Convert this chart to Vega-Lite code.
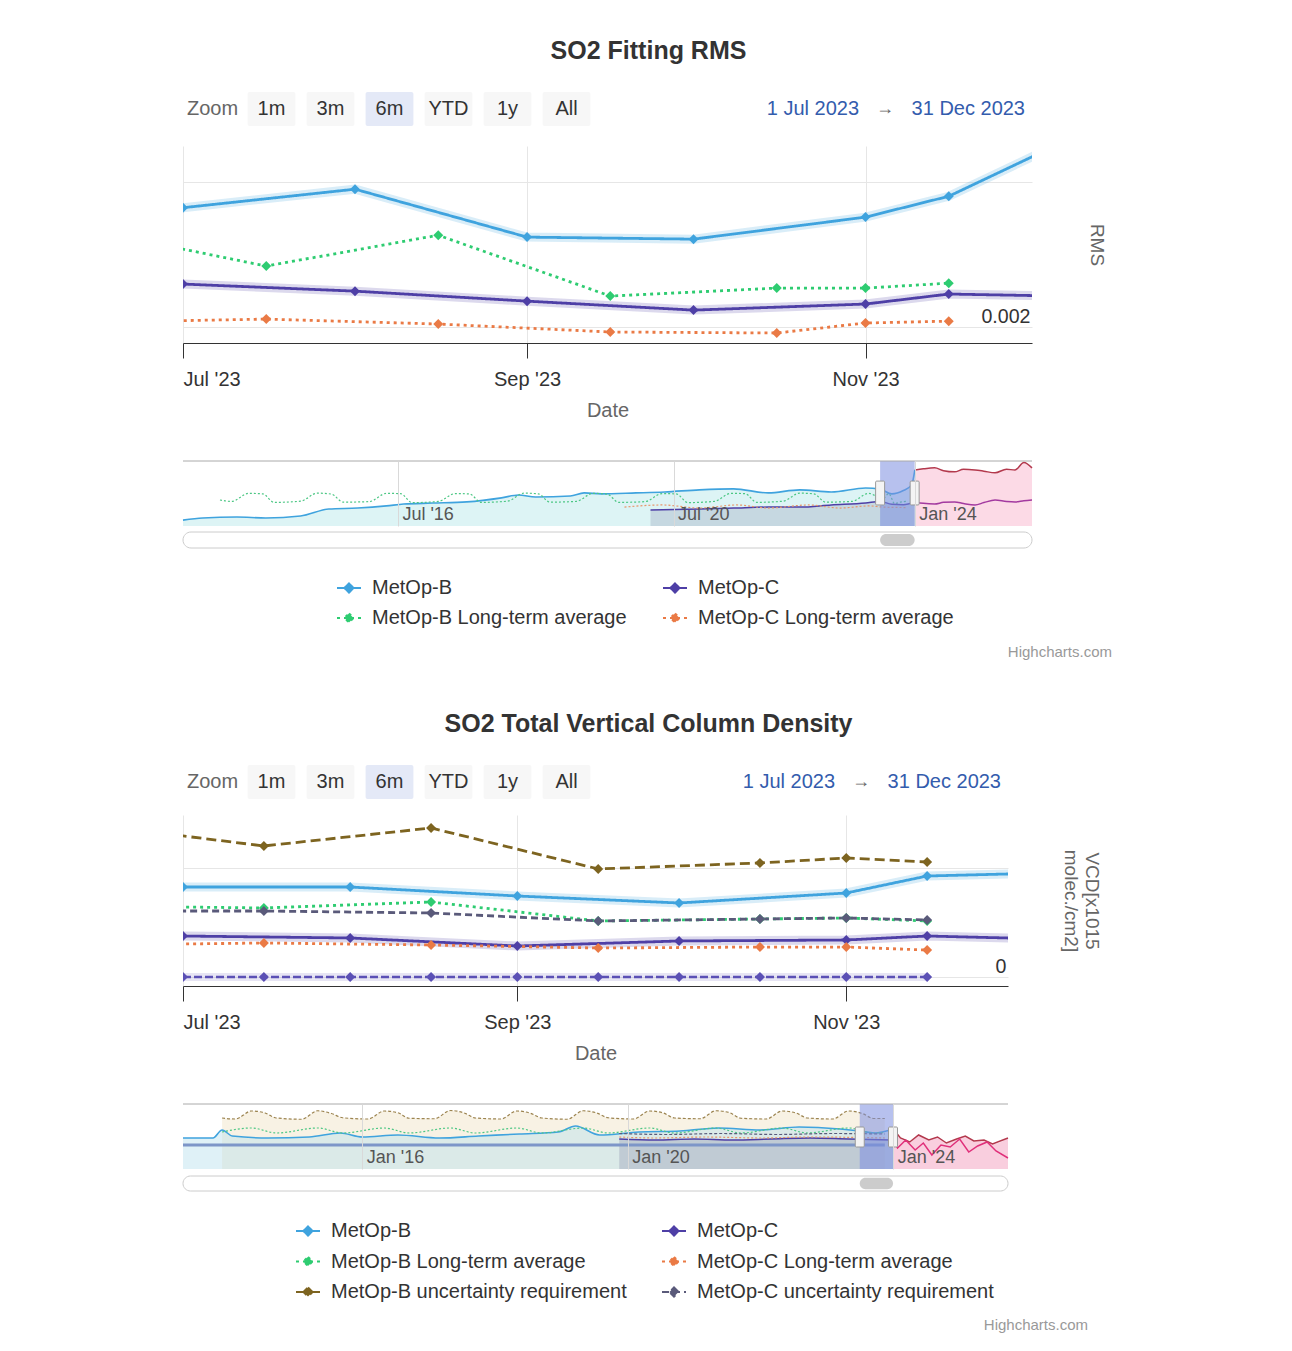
{
"$schema": "https://vega.github.io/schema/vega-lite/v6.json",
"background": "white",
"padding": {"left": 177, "top": 39, "right": 10, "bottom": 5},
"config": {"font": "Liberation Sans", "view": {"stroke": null}},
"datasets": {
"buttons": [{"label":"Zoom"},{"label":"1m"},{"label":"3m"},{"label":"6m"},{"label":"YTD"},{"label":"1y"},{"label":"All"}],
"range": [{"from":"1 Jul 2023","to":"31 Dec 2023"}],
"sel": [{"date":"2023-07-01","end":"2023-12-31"}],
"handles": [{"date":"2023-07-01"},{"date":"2023-12-31"}],
"credit": [{"credit":"Highcharts.com"}],
"rms": [
{"date":"2023-07-01","series":"MetOp-B","value":0.002824},
{"date":"2023-08-01","series":"MetOp-B","value":0.002952},
{"date":"2023-09-01","series":"MetOp-B","value":0.002621},
{"date":"2023-10-01","series":"MetOp-B","value":0.002607},
{"date":"2023-11-01","series":"MetOp-B","value":0.002759},
{"date":"2023-11-16","series":"MetOp-B","value":0.002903},
{"date":"2023-12-16","series":"MetOp-B","value":0.003448},
{"date":"2023-06-16","series":"MetOp-B Long-term average","value":0.002655},
{"date":"2023-07-16","series":"MetOp-B Long-term average","value":0.002421},
{"date":"2023-08-16","series":"MetOp-B Long-term average","value":0.002634},
{"date":"2023-09-16","series":"MetOp-B Long-term average","value":0.002214},
{"date":"2023-10-16","series":"MetOp-B Long-term average","value":0.002269},
{"date":"2023-11-01","series":"MetOp-B Long-term average","value":0.002269},
{"date":"2023-11-16","series":"MetOp-B Long-term average","value":0.002303},
{"date":"2023-07-01","series":"MetOp-C","value":0.002297},
{"date":"2023-08-01","series":"MetOp-C","value":0.002248},
{"date":"2023-09-01","series":"MetOp-C","value":0.002179},
{"date":"2023-10-01","series":"MetOp-C","value":0.002117},
{"date":"2023-11-01","series":"MetOp-C","value":0.002159},
{"date":"2023-11-16","series":"MetOp-C","value":0.002228},
{"date":"2023-12-16","series":"MetOp-C","value":0.002207},
{"date":"2023-06-16","series":"MetOp-C Long-term average","value":0.002034},
{"date":"2023-07-16","series":"MetOp-C Long-term average","value":0.002055},
{"date":"2023-08-16","series":"MetOp-C Long-term average","value":0.002021},
{"date":"2023-09-16","series":"MetOp-C Long-term average","value":0.001966},
{"date":"2023-10-16","series":"MetOp-C Long-term average","value":0.001959},
{"date":"2023-11-01","series":"MetOp-C Long-term average","value":0.002028},
{"date":"2023-11-16","series":"MetOp-C Long-term average","value":0.002041}
],
"vcd": [
{"date":"2023-07-01","series":"MetOp-B","value":1.651},
{"date":"2023-08-01","series":"MetOp-B","value":1.651},
{"date":"2023-09-01","series":"MetOp-B","value":1.486},
{"date":"2023-10-01","series":"MetOp-B","value":1.358},
{"date":"2023-11-01","series":"MetOp-B","value":1.541},
{"date":"2023-11-16","series":"MetOp-B","value":1.853},
{"date":"2023-12-16","series":"MetOp-B","value":1.927},
{"date":"2023-06-16","series":"MetOp-B Long-term average","value":1.303},
{"date":"2023-07-16","series":"MetOp-B Long-term average","value":1.266},
{"date":"2023-08-16","series":"MetOp-B Long-term average","value":1.376},
{"date":"2023-09-16","series":"MetOp-B Long-term average","value":1.028},
{"date":"2023-10-16","series":"MetOp-B Long-term average","value":1.064},
{"date":"2023-11-01","series":"MetOp-B Long-term average","value":1.083},
{"date":"2023-11-16","series":"MetOp-B Long-term average","value":1.028},
{"date":"2023-06-16","series":"MetOp-B uncertainty requirement","value":2.771},
{"date":"2023-07-16","series":"MetOp-B uncertainty requirement","value":2.404},
{"date":"2023-08-16","series":"MetOp-B uncertainty requirement","value":2.734},
{"date":"2023-09-16","series":"MetOp-B uncertainty requirement","value":1.982},
{"date":"2023-10-16","series":"MetOp-B uncertainty requirement","value":2.092},
{"date":"2023-11-01","series":"MetOp-B uncertainty requirement","value":2.183},
{"date":"2023-11-16","series":"MetOp-B uncertainty requirement","value":2.110},
{"date":"2023-07-01","series":"MetOp-C","value":0.752},
{"date":"2023-08-01","series":"MetOp-C","value":0.716},
{"date":"2023-09-01","series":"MetOp-C","value":0.569},
{"date":"2023-10-01","series":"MetOp-C","value":0.661},
{"date":"2023-11-01","series":"MetOp-C","value":0.679},
{"date":"2023-11-16","series":"MetOp-C","value":0.752},
{"date":"2023-12-16","series":"MetOp-C","value":0.679},
{"date":"2023-06-16","series":"MetOp-C Long-term average","value":0.587},
{"date":"2023-07-16","series":"MetOp-C Long-term average","value":0.624},
{"date":"2023-08-16","series":"MetOp-C Long-term average","value":0.587},
{"date":"2023-09-16","series":"MetOp-C Long-term average","value":0.532},
{"date":"2023-10-16","series":"MetOp-C Long-term average","value":0.550},
{"date":"2023-11-01","series":"MetOp-C Long-term average","value":0.550},
{"date":"2023-11-16","series":"MetOp-C Long-term average","value":0.495},
{"date":"2023-06-16","series":"MetOp-C uncertainty requirement","value":1.211},
{"date":"2023-07-16","series":"MetOp-C uncertainty requirement","value":1.211},
{"date":"2023-08-16","series":"MetOp-C uncertainty requirement","value":1.174},
{"date":"2023-09-16","series":"MetOp-C uncertainty requirement","value":1.028},
{"date":"2023-10-16","series":"MetOp-C uncertainty requirement","value":1.064},
{"date":"2023-11-01","series":"MetOp-C uncertainty requirement","value":1.083},
{"date":"2023-11-16","series":"MetOp-C uncertainty requirement","value":1.046},
{"date":"2023-07-01","series":"Zero line","value":0},
{"date":"2023-07-16","series":"Zero line","value":0},
{"date":"2023-08-01","series":"Zero line","value":0},
{"date":"2023-08-16","series":"Zero line","value":0},
{"date":"2023-09-01","series":"Zero line","value":0},
{"date":"2023-09-16","series":"Zero line","value":0},
{"date":"2023-10-01","series":"Zero line","value":0},
{"date":"2023-10-16","series":"Zero line","value":0},
{"date":"2023-11-01","series":"Zero line","value":0},
{"date":"2023-11-16","series":"Zero line","value":0}
],
"nav1": [
{"date":"2013-05-19","series":"MetOp-B","v":0.00151},
{"date":"2013-09-01","series":"MetOp-B","v":0.00160},
{"date":"2014-03-01","series":"MetOp-B","v":0.00164},
{"date":"2014-08-01","series":"MetOp-B","v":0.00160},
{"date":"2015-02-01","series":"MetOp-B","v":0.00168},
{"date":"2015-07-01","series":"MetOp-B","v":0.00198},
{"date":"2015-12-01","series":"MetOp-B","v":0.00202},
{"date":"2016-05-01","series":"MetOp-B","v":0.00211},
{"date":"2016-08-01","series":"MetOp-B","v":0.00219},
{"date":"2017-01-01","series":"MetOp-B","v":0.00223},
{"date":"2017-07-01","series":"MetOp-B","v":0.00228},
{"date":"2018-01-01","series":"MetOp-B","v":0.00245},
{"date":"2018-04-01","series":"MetOp-B","v":0.00257},
{"date":"2018-07-01","series":"MetOp-B","v":0.00249},
{"date":"2019-01-01","series":"MetOp-B","v":0.00253},
{"date":"2019-03-15","series":"MetOp-B","v":0.00266},
{"date":"2019-06-15","series":"MetOp-B","v":0.00262},
{"date":"2019-12-15","series":"MetOp-B","v":0.00266},
{"date":"2020-05-15","series":"MetOp-B","v":0.00270},
{"date":"2020-11-15","series":"MetOp-B","v":0.00279},
{"date":"2021-05-15","series":"MetOp-B","v":0.00283},
{"date":"2021-11-15","series":"MetOp-B","v":0.00266},
{"date":"2022-05-01","series":"MetOp-B","v":0.00279},
{"date":"2022-10-15","series":"MetOp-B","v":0.00270},
{"date":"2023-04-15","series":"MetOp-B","v":0.00287},
{"date":"2023-07-01","series":"MetOp-B","v":0.00282},
{"date":"2023-09-01","series":"MetOp-B","v":0.00262},
{"date":"2023-11-01","series":"MetOp-B","v":0.00276},
{"date":"2023-12-15","series":"MetOp-B","v":0.00300},
{"date":"2024-01-01","series":"MetOp-B","v":0.00363},
{"date":"2024-02-15","series":"MetOp-B","v":0.00368},
{"date":"2024-04-15","series":"MetOp-B","v":0.00372},
{"date":"2024-06-01","series":"MetOp-B","v":0.00360},
{"date":"2024-07-30","series":"MetOp-B","v":0.00355},
{"date":"2024-09-15","series":"MetOp-B","v":0.00366},
{"date":"2024-11-15","series":"MetOp-B","v":0.00363},
{"date":"2025-01-01","series":"MetOp-B","v":0.00358},
{"date":"2025-03-01","series":"MetOp-B","v":0.00351},
{"date":"2025-05-01","series":"MetOp-B","v":0.00366},
{"date":"2025-06-15","series":"MetOp-B","v":0.00363},
{"date":"2025-08-01","series":"MetOp-B","v":0.00395},
{"date":"2025-09-13","series":"MetOp-B","v":0.00372},
{"date":"2020-03-01","series":"MetOp-C","v":0.00194},
{"date":"2020-11-15","series":"MetOp-C","v":0.00198},
{"date":"2021-05-15","series":"MetOp-C","v":0.00202},
{"date":"2021-11-15","series":"MetOp-C","v":0.00206},
{"date":"2022-05-01","series":"MetOp-C","v":0.00206},
{"date":"2022-10-15","series":"MetOp-C","v":0.00215},
{"date":"2023-04-15","series":"MetOp-C","v":0.00223},
{"date":"2023-07-01","series":"MetOp-C","v":0.00230},
{"date":"2023-09-01","series":"MetOp-C","v":0.00218},
{"date":"2023-11-01","series":"MetOp-C","v":0.00216},
{"date":"2024-01-01","series":"MetOp-C","v":0.00228},
{"date":"2024-02-15","series":"MetOp-C","v":0.00222},
{"date":"2024-04-15","series":"MetOp-C","v":0.00219},
{"date":"2024-06-01","series":"MetOp-C","v":0.00226},
{"date":"2024-07-30","series":"MetOp-C","v":0.00228},
{"date":"2024-09-15","series":"MetOp-C","v":0.00221},
{"date":"2024-11-15","series":"MetOp-C","v":0.00215},
{"date":"2025-01-01","series":"MetOp-C","v":0.00225},
{"date":"2025-03-01","series":"MetOp-C","v":0.00236},
{"date":"2025-05-01","series":"MetOp-C","v":0.00230},
{"date":"2025-06-15","series":"MetOp-C","v":0.00228},
{"date":"2025-08-01","series":"MetOp-C","v":0.00233},
{"date":"2025-09-13","series":"MetOp-C","v":0.00236},
{"date":"2013-12-01","series":"MetOp-B Long-term average","v":0.00236},
{"date":"2014-02-01","series":"MetOp-B Long-term average","v":0.00230},
{"date":"2014-05-01","series":"MetOp-B Long-term average","v":0.00264},
{"date":"2014-07-15","series":"MetOp-B Long-term average","v":0.00262},
{"date":"2014-09-15","series":"MetOp-B Long-term average","v":0.00226},
{"date":"2015-02-01","series":"MetOp-B Long-term average","v":0.00231},
{"date":"2015-05-01","series":"MetOp-B Long-term average","v":0.00265},
{"date":"2015-07-15","series":"MetOp-B Long-term average","v":0.00261},
{"date":"2015-09-15","series":"MetOp-B Long-term average","v":0.00227},
{"date":"2016-02-01","series":"MetOp-B Long-term average","v":0.00229},
{"date":"2016-05-01","series":"MetOp-B Long-term average","v":0.00264},
{"date":"2016-07-15","series":"MetOp-B Long-term average","v":0.00263},
{"date":"2016-09-15","series":"MetOp-B Long-term average","v":0.00225},
{"date":"2017-02-01","series":"MetOp-B Long-term average","v":0.00230},
{"date":"2017-05-01","series":"MetOp-B Long-term average","v":0.00263},
{"date":"2017-07-15","series":"MetOp-B Long-term average","v":0.00262},
{"date":"2017-09-15","series":"MetOp-B Long-term average","v":0.00226},
{"date":"2018-02-01","series":"MetOp-B Long-term average","v":0.00231},
{"date":"2018-05-01","series":"MetOp-B Long-term average","v":0.00265},
{"date":"2018-07-15","series":"MetOp-B Long-term average","v":0.00262},
{"date":"2018-09-15","series":"MetOp-B Long-term average","v":0.00227},
{"date":"2019-02-01","series":"MetOp-B Long-term average","v":0.00230},
{"date":"2019-05-01","series":"MetOp-B Long-term average","v":0.00264},
{"date":"2019-07-15","series":"MetOp-B Long-term average","v":0.00261},
{"date":"2019-09-15","series":"MetOp-B Long-term average","v":0.00226},
{"date":"2020-02-01","series":"MetOp-B Long-term average","v":0.00229},
{"date":"2020-05-01","series":"MetOp-B Long-term average","v":0.00263},
{"date":"2020-07-15","series":"MetOp-B Long-term average","v":0.00262},
{"date":"2020-09-15","series":"MetOp-B Long-term average","v":0.00225},
{"date":"2021-02-01","series":"MetOp-B Long-term average","v":0.00230},
{"date":"2021-05-01","series":"MetOp-B Long-term average","v":0.00264},
{"date":"2021-07-15","series":"MetOp-B Long-term average","v":0.00263},
{"date":"2021-09-15","series":"MetOp-B Long-term average","v":0.00226},
{"date":"2022-02-01","series":"MetOp-B Long-term average","v":0.00231},
{"date":"2022-05-01","series":"MetOp-B Long-term average","v":0.00265},
{"date":"2022-07-15","series":"MetOp-B Long-term average","v":0.00262},
{"date":"2022-09-15","series":"MetOp-B Long-term average","v":0.00227},
{"date":"2023-02-01","series":"MetOp-B Long-term average","v":0.00230},
{"date":"2023-05-01","series":"MetOp-B Long-term average","v":0.00264},
{"date":"2023-07-16","series":"MetOp-B Long-term average","v":0.00242},
{"date":"2023-08-16","series":"MetOp-B Long-term average","v":0.00263},
{"date":"2023-09-16","series":"MetOp-B Long-term average","v":0.00221},
{"date":"2023-10-16","series":"MetOp-B Long-term average","v":0.00227},
{"date":"2023-11-16","series":"MetOp-B Long-term average","v":0.00230},
{"date":"2019-10-15","series":"MetOp-C Long-term average","v":0.00206},
{"date":"2020-05-01","series":"MetOp-C Long-term average","v":0.00215},
{"date":"2020-11-15","series":"MetOp-C Long-term average","v":0.00202},
{"date":"2021-06-01","series":"MetOp-C Long-term average","v":0.00215},
{"date":"2021-11-15","series":"MetOp-C Long-term average","v":0.00202},
{"date":"2022-06-15","series":"MetOp-C Long-term average","v":0.00215},
{"date":"2022-12-01","series":"MetOp-C Long-term average","v":0.00202},
{"date":"2023-05-01","series":"MetOp-C Long-term average","v":0.00211},
{"date":"2023-07-16","series":"MetOp-C Long-term average","v":0.00206},
{"date":"2023-11-16","series":"MetOp-C Long-term average","v":0.00204}
],
"nav2": [
{"date":"2013-04-19","series":"MetOp-B","v":1.52},
{"date":"2013-10-01","series":"MetOp-B","v":1.52},
{"date":"2013-11-20","series":"MetOp-B","v":1.84},
{"date":"2014-01-15","series":"MetOp-B","v":1.60},
{"date":"2014-08-01","series":"MetOp-B","v":1.52},
{"date":"2015-03-15","series":"MetOp-B","v":1.56},
{"date":"2015-09-01","series":"MetOp-B","v":1.72},
{"date":"2016-01-01","series":"MetOp-B","v":1.56},
{"date":"2016-07-15","series":"MetOp-B","v":1.64},
{"date":"2017-03-01","series":"MetOp-B","v":1.52},
{"date":"2017-10-01","series":"MetOp-B","v":1.60},
{"date":"2018-05-15","series":"MetOp-B","v":1.68},
{"date":"2018-12-15","series":"MetOp-B","v":1.76},
{"date":"2019-03-20","series":"MetOp-B","v":2.00},
{"date":"2019-07-30","series":"MetOp-B","v":1.64},
{"date":"2020-03-01","series":"MetOp-B","v":1.76},
{"date":"2020-10-15","series":"MetOp-B","v":1.80},
{"date":"2021-05-15","series":"MetOp-B","v":1.92},
{"date":"2021-12-31","series":"MetOp-B","v":1.84},
{"date":"2022-08-01","series":"MetOp-B","v":1.96},
{"date":"2023-03-15","series":"MetOp-B","v":1.88},
{"date":"2023-07-01","series":"MetOp-B","v":1.80},
{"date":"2023-09-20","series":"MetOp-B","v":1.72},
{"date":"2024-01-01","series":"MetOp-B","v":1.88},
{"date":"2024-02-10","series":"MetOp-B","v":1.52},
{"date":"2024-04-01","series":"MetOp-B","v":1.36},
{"date":"2024-05-20","series":"MetOp-B","v":1.64},
{"date":"2024-07-15","series":"MetOp-B","v":1.44},
{"date":"2024-09-01","series":"MetOp-B","v":1.56},
{"date":"2024-10-20","series":"MetOp-B","v":1.32},
{"date":"2024-12-15","series":"MetOp-B","v":1.48},
{"date":"2025-02-01","series":"MetOp-B","v":1.60},
{"date":"2025-03-20","series":"MetOp-B","v":1.40},
{"date":"2025-05-15","series":"MetOp-B","v":1.44},
{"date":"2025-07-01","series":"MetOp-B","v":1.28},
{"date":"2025-09-24","series":"MetOp-B","v":1.52},
{"date":"2019-11-15","series":"MetOp-C","v":1.48},
{"date":"2020-06-01","series":"MetOp-C","v":1.44},
{"date":"2021-01-01","series":"MetOp-C","v":1.48},
{"date":"2021-08-01","series":"MetOp-C","v":1.44},
{"date":"2022-03-01","series":"MetOp-C","v":1.48},
{"date":"2022-10-01","series":"MetOp-C","v":1.52},
{"date":"2023-05-01","series":"MetOp-C","v":1.48},
{"date":"2024-01-01","series":"MetOp-C","v":1.44},
{"date":"2024-01-25","series":"MetOp-C","v":1.12},
{"date":"2024-03-10","series":"MetOp-C","v":1.44},
{"date":"2024-05-01","series":"MetOp-C","v":1.04},
{"date":"2024-06-15","series":"MetOp-C","v":1.32},
{"date":"2024-08-01","series":"MetOp-C","v":0.84},
{"date":"2024-09-20","series":"MetOp-C","v":1.24},
{"date":"2024-11-10","series":"MetOp-C","v":1.16},
{"date":"2025-01-01","series":"MetOp-C","v":1.48},
{"date":"2025-02-20","series":"MetOp-C","v":0.96},
{"date":"2025-04-10","series":"MetOp-C","v":1.20},
{"date":"2025-06-01","series":"MetOp-C","v":1.36},
{"date":"2025-07-20","series":"MetOp-C","v":1.00},
{"date":"2025-09-24","series":"MetOp-C","v":0.72},
{"date":"2013-11-20","series":"MetOp-B uncertainty requirement","v":2.32},
{"date":"2014-02-01","series":"MetOp-B uncertainty requirement","v":2.28},
{"date":"2014-05-01","series":"MetOp-B uncertainty requirement","v":2.60},
{"date":"2014-07-15","series":"MetOp-B uncertainty requirement","v":2.52},
{"date":"2014-09-15","series":"MetOp-B uncertainty requirement","v":2.32},
{"date":"2015-02-01","series":"MetOp-B uncertainty requirement","v":2.27},
{"date":"2015-05-01","series":"MetOp-B uncertainty requirement","v":2.61},
{"date":"2015-07-15","series":"MetOp-B uncertainty requirement","v":2.50},
{"date":"2015-09-15","series":"MetOp-B uncertainty requirement","v":2.33},
{"date":"2016-02-01","series":"MetOp-B uncertainty requirement","v":2.28},
{"date":"2016-05-01","series":"MetOp-B uncertainty requirement","v":2.60},
{"date":"2016-07-15","series":"MetOp-B uncertainty requirement","v":2.53},
{"date":"2016-09-15","series":"MetOp-B uncertainty requirement","v":2.31},
{"date":"2017-02-01","series":"MetOp-B uncertainty requirement","v":2.29},
{"date":"2017-05-01","series":"MetOp-B uncertainty requirement","v":2.62},
{"date":"2017-07-15","series":"MetOp-B uncertainty requirement","v":2.52},
{"date":"2017-09-15","series":"MetOp-B uncertainty requirement","v":2.32},
{"date":"2018-02-01","series":"MetOp-B uncertainty requirement","v":2.28},
{"date":"2018-05-01","series":"MetOp-B uncertainty requirement","v":2.60},
{"date":"2018-07-15","series":"MetOp-B uncertainty requirement","v":2.51},
{"date":"2018-09-15","series":"MetOp-B uncertainty requirement","v":2.32},
{"date":"2019-02-01","series":"MetOp-B uncertainty requirement","v":2.27},
{"date":"2019-05-01","series":"MetOp-B uncertainty requirement","v":2.61},
{"date":"2019-07-15","series":"MetOp-B uncertainty requirement","v":2.52},
{"date":"2019-09-15","series":"MetOp-B uncertainty requirement","v":2.33},
{"date":"2020-02-01","series":"MetOp-B uncertainty requirement","v":2.28},
{"date":"2020-05-01","series":"MetOp-B uncertainty requirement","v":2.60},
{"date":"2020-07-15","series":"MetOp-B uncertainty requirement","v":2.52},
{"date":"2020-09-15","series":"MetOp-B uncertainty requirement","v":2.32},
{"date":"2021-02-01","series":"MetOp-B uncertainty requirement","v":2.29},
{"date":"2021-05-01","series":"MetOp-B uncertainty requirement","v":2.61},
{"date":"2021-07-15","series":"MetOp-B uncertainty requirement","v":2.53},
{"date":"2021-09-15","series":"MetOp-B uncertainty requirement","v":2.31},
{"date":"2022-02-01","series":"MetOp-B uncertainty requirement","v":2.28},
{"date":"2022-05-01","series":"MetOp-B uncertainty requirement","v":2.60},
{"date":"2022-07-15","series":"MetOp-B uncertainty requirement","v":2.52},
{"date":"2022-09-15","series":"MetOp-B uncertainty requirement","v":2.32},
{"date":"2023-02-01","series":"MetOp-B uncertainty requirement","v":2.28},
{"date":"2023-05-01","series":"MetOp-B uncertainty requirement","v":2.60},
{"date":"2023-07-15","series":"MetOp-B uncertainty requirement","v":2.50},
{"date":"2023-09-15","series":"MetOp-B uncertainty requirement","v":2.30},
{"date":"2023-11-16","series":"MetOp-B uncertainty requirement","v":2.30},
{"date":"2013-11-20","series":"MetOp-B Long-term average","v":1.76},
{"date":"2014-05-01","series":"MetOp-B Long-term average","v":1.92},
{"date":"2014-09-15","series":"MetOp-B Long-term average","v":1.72},
{"date":"2015-05-01","series":"MetOp-B Long-term average","v":1.92},
{"date":"2015-09-15","series":"MetOp-B Long-term average","v":1.72},
{"date":"2016-05-01","series":"MetOp-B Long-term average","v":1.92},
{"date":"2016-09-15","series":"MetOp-B Long-term average","v":1.72},
{"date":"2017-05-01","series":"MetOp-B Long-term average","v":1.92},
{"date":"2017-09-15","series":"MetOp-B Long-term average","v":1.72},
{"date":"2018-05-01","series":"MetOp-B Long-term average","v":1.92},
{"date":"2018-09-15","series":"MetOp-B Long-term average","v":1.72},
{"date":"2019-05-01","series":"MetOp-B Long-term average","v":1.92},
{"date":"2019-09-15","series":"MetOp-B Long-term average","v":1.72},
{"date":"2020-05-01","series":"MetOp-B Long-term average","v":1.92},
{"date":"2020-09-15","series":"MetOp-B Long-term average","v":1.72},
{"date":"2021-05-01","series":"MetOp-B Long-term average","v":1.92},
{"date":"2021-09-15","series":"MetOp-B Long-term average","v":1.72},
{"date":"2022-05-01","series":"MetOp-B Long-term average","v":1.92},
{"date":"2022-09-15","series":"MetOp-B Long-term average","v":1.72},
{"date":"2023-05-01","series":"MetOp-B Long-term average","v":1.92},
{"date":"2023-09-15","series":"MetOp-B Long-term average","v":1.72},
{"date":"2023-11-16","series":"MetOp-B Long-term average","v":1.74},
{"date":"2019-11-15","series":"MetOp-C uncertainty requirement","v":1.70},
{"date":"2020-08-01","series":"MetOp-C uncertainty requirement","v":1.66},
{"date":"2021-06-01","series":"MetOp-C uncertainty requirement","v":1.70},
{"date":"2022-04-01","series":"MetOp-C uncertainty requirement","v":1.66},
{"date":"2023-02-01","series":"MetOp-C uncertainty requirement","v":1.70},
{"date":"2023-11-16","series":"MetOp-C uncertainty requirement","v":1.68},
{"date":"2019-11-15","series":"MetOp-C Long-term average","v":1.56},
{"date":"2020-06-01","series":"MetOp-C Long-term average","v":1.52},
{"date":"2021-03-01","series":"MetOp-C Long-term average","v":1.56},
{"date":"2022-01-01","series":"MetOp-C Long-term average","v":1.52},
{"date":"2022-10-01","series":"MetOp-C Long-term average","v":1.56},
{"date":"2023-11-16","series":"MetOp-C Long-term average","v":1.52},
{"date":"2013-04-19","series":"Zero line","v":1.24},
{"date":"2017-01-01","series":"Zero line","v":1.24},
{"date":"2020-06-01","series":"Zero line","v":1.24},
{"date":"2023-11-16","series":"Zero line","v":1.24}
]
},
"spacing": 52,
"resolve": {"scale": {"color": "independent", "stroke": "independent", "strokeDash": "independent"}, "legend": {"color": "independent", "stroke": "independent", "strokeDash": "independent"}},
"vconcat": [
{
"spacing": 39,
"resolve": {"scale": {"color": "independent", "stroke": "independent", "strokeDash": "independent"}, "legend": {"color": "independent", "stroke": "independent", "strokeDash": "independent"}},
"vconcat": [
{
"spacing": 20,
"resolve": {"scale": {"color": "independent", "stroke": "independent", "strokeDash": "independent"}, "legend": {"color": "independent", "stroke": "independent", "strokeDash": "independent"}},
"vconcat": [
{
"width": 849, "height": 34,
"title": {"text": "SO2 Fitting RMS", "fontSize": 25, "fontWeight": "bold", "color": "#333333", "anchor": "middle", "frame": "group", "dx": 41, "offset": 3, "baseline": "bottom"},
"layer": [
{"data": {"name": "buttons"}, "transform": [{"filter": "datum.label != 'Zoom'"}],
 "mark": {"type": "rect", "cornerRadius": 2},
 "encoding": {"x": {"field": "label", "type": "nominal", "scale": {"type": "band", "domain": ["Zoom","1m","3m","6m","YTD","1y","All"], "range": [0, 413], "paddingInner": 0.19, "paddingOuter": 0.095}, "axis": null},
  "fill": {"condition": {"test": "datum.label == '6m'", "value": "#e4e9f7"}, "value": "#f7f7f7"}}},
{"data": {"name": "buttons"},
 "mark": {"type": "text", "fontSize": 20},
 "encoding": {"x": {"field": "label", "type": "nominal", "bandPosition": 0.5, "scale": {"type": "band", "domain": ["Zoom","1m","3m","6m","YTD","1y","All"], "range": [0, 413], "paddingInner": 0.19, "paddingOuter": 0.095}, "axis": null},
  "text": {"field": "label"},
  "color": {"condition": {"test": "datum.label == 'Zoom'", "value": "#666666"}, "value": "#333333"},
  "fontWeight": {"condition": {"test": "datum.label == '6m'", "value": "bold"}, "value": "normal"}}},
{"data": {"name": "range"}, "mark": {"type": "text", "align": "right", "dx": -7, "fontSize": 20, "color": "#335cad"}, "encoding": {"x": {"value": "width"}, "text": {"field": "to"}}},
{"data": {"name": "range"}, "mark": {"type": "text", "align": "center", "dx": -147, "fontSize": 18, "color": "#666666"}, "encoding": {"x": {"value": "width"}, "text": {"value": "→"}}},
{"data": {"name": "range"}, "mark": {"type": "text", "align": "right", "dx": -173, "fontSize": 20, "color": "#335cad"}, "encoding": {"x": {"value": "width"}, "text": {"field": "from"}}}
]
},
{
"width": 849, "height": 197,
"data": {"name": "rms"},
"encoding": {
 "x": {"field": "date", "type": "temporal", "title": "Date",
  "scale": {"type": "utc", "domain": [{"year":2023,"month":7,"date":1,"utc":true},{"year":2023,"month":12,"date":1,"utc":true}]},
  "axis": {"values": [{"year":2023,"month":7,"date":1,"utc":true},{"year":2023,"month":9,"date":1,"utc":true},{"year":2023,"month":11,"date":1,"utc":true}], "format": "%b '%y", "labelFlush": true, "tickSize": 15, "tickColor": "#333333", "domainColor": "#333333", "grid": true, "gridColor": "#e6e6e6", "labelFontSize": 20, "labelColor": "#333333", "labelPadding": 11, "titleFontSize": 20, "titleColor": "#666666", "titleFontWeight": "normal", "titlePadding": 11}},
 "y": {"field": "value", "type": "quantitative", "title": "RMS",
  "scale": {"domain": [0.00189, 0.00325], "nice": false, "zero": false},
  "axis": {"orient": "right", "values": [0.002, 0.003], "labelExpr": "datum.value == 0.002 ? '0.002' : ''", "grid": true, "gridColor": "#e6e6e6", "domain": false, "ticks": false, "tickSize": 0, "labelAlign": "right", "labelPadding": -2, "labelBaseline": "alphabetic", "labelOffset": -5, "labelFontSize": 19.6, "labelColor": "#333333", "titleFontSize": 19, "titleColor": "#666666", "titleFontWeight": "normal", "titlePadding": 54}}
},
"layer": [
{"transform": [{"filter": {"field": "series", "oneOf": ["MetOp-B", "MetOp-C"]}}],
 "mark": {"type": "line", "strokeWidth": 9, "opacity": 0.2, "clip": true},
 "encoding": {"color": {"field": "series", "type": "nominal", "scale": {"domain": ["MetOp-B","MetOp-C","MetOp-B Long-term average","MetOp-C Long-term average"], "range": ["#3fa3de","#4e3fa6","#2ecc71","#ea7a45"]}, "legend": null}}},
{"mark": {"type": "line", "strokeWidth": 2.8, "clip": true},
 "encoding": {"color": {"field": "series", "type": "nominal", "scale": {"domain": ["MetOp-B","MetOp-C","MetOp-B Long-term average","MetOp-C Long-term average"], "range": ["#3fa3de","#4e3fa6","#2ecc71","#ea7a45"]}, "legend": null},
  "strokeDash": {"field": "series", "type": "nominal", "scale": {"domain": ["MetOp-B","MetOp-C","MetOp-B Long-term average","MetOp-C Long-term average"], "range": [[1,0],[1,0],[3,4],[3,4]]}, "legend": null}}},
{"mark": {"type": "point", "shape": "diamond", "filled": true, "size": 100, "opacity": 1, "clip": true},
 "encoding": {"color": {"field": "series", "type": "nominal", "scale": {"domain": ["MetOp-B","MetOp-C","MetOp-B Long-term average","MetOp-C Long-term average"], "range": ["#3fa3de","#4e3fa6","#2ecc71","#ea7a45"]}, "legend": null}}}
]
}
]
},
{
"spacing": 26,
"resolve": {"scale": {"color": "independent", "stroke": "independent", "strokeDash": "independent"}, "legend": {"color": "independent", "stroke": "independent", "strokeDash": "independent"}},
"vconcat": [
{
"spacing": 5,
"resolve": {"scale": {"color": "independent", "stroke": "independent", "strokeDash": "independent"}, "legend": {"color": "independent", "stroke": "independent", "strokeDash": "independent"}},
"vconcat": [
{
"width": 849, "height": 65,
"encoding": {"x": {"field": "date", "type": "temporal", "title": null,
  "scale": {"type": "utc", "domain": [{"year":2013,"month":5,"date":19,"utc":true},{"year":2025,"month":9,"date":13,"utc":true}]},
  "axis": {"values": [{"year":2016,"month":7,"date":1,"utc":true},{"year":2020,"month":7,"date":1,"utc":true},{"year":2024,"month":1,"date":1,"utc":true}], "format": "%b '%y", "grid": true, "gridColor": "#d9d9d9", "domain": false, "ticks": false, "tickSize": 0, "labelAlign": "left", "labelBaseline": "top", "labelPadding": -21, "labelOffset": 4, "labelFontSize": 18, "labelColor": "#555555", "labelFlush": false, "labelOverlap": false, "zindex": 1, "title": null}}},
"layer": [
{"data": {"name": "nav1"}, "transform": [{"filter": {"and": [{"field": "series", "equal": "MetOp-B"}, {"field": "date", "lte": {"year":2024,"month":1,"date":1,"utc":true}}]}}],
 "mark": {"type": "area", "color": "#c6ecef", "opacity": 0.6, "interpolate": "monotone"},
 "encoding": {"y": {"field": "v", "type": "quantitative", "scale": {"domain": [0.00126, 0.00401], "nice": false, "zero": false}, "axis": null}, "y2": {"datum": 0.00126}}},
{"data": {"name": "nav1"}, "transform": [{"filter": {"and": [{"field": "series", "equal": "MetOp-C"}, {"field": "date", "lte": {"year":2024,"month":1,"date":1,"utc":true}}]}}],
 "mark": {"type": "area", "color": "#9297b3", "opacity": 0.3, "interpolate": "monotone"},
 "encoding": {"y": {"field": "v", "type": "quantitative", "axis": null}, "y2": {"datum": 0.00126}}},
{"data": {"name": "nav1"}, "transform": [{"filter": {"and": [{"field": "series", "equal": "MetOp-B"}, {"field": "date", "gte": {"year":2024,"month":1,"date":1,"utc":true}}]}}],
 "mark": {"type": "area", "color": "#fbd3e2", "opacity": 0.85, "interpolate": "monotone"},
 "encoding": {"y": {"field": "v", "type": "quantitative", "axis": null}, "y2": {"datum": 0.00126}}},
{"data": {"name": "nav1"}, "transform": [{"filter": {"and": [{"field": "series", "equal": "MetOp-B"}, {"field": "date", "lte": {"year":2024,"month":1,"date":1,"utc":true}}]}}],
 "mark": {"type": "line", "color": "#3fa3de", "strokeWidth": 1.6, "interpolate": "monotone"},
 "encoding": {"y": {"field": "v", "type": "quantitative", "axis": null}}},
{"data": {"name": "nav1"}, "transform": [{"filter": {"field": "series", "equal": "MetOp-B Long-term average"}}],
 "mark": {"type": "line", "color": "#4cc784", "strokeWidth": 1.2, "strokeDash": [2,2], "interpolate": "monotone"},
 "encoding": {"y": {"field": "v", "type": "quantitative", "axis": null}}},
{"data": {"name": "nav1"}, "transform": [{"filter": {"and": [{"field": "series", "equal": "MetOp-C"}, {"field": "date", "lte": {"year":2024,"month":1,"date":1,"utc":true}}]}}],
 "mark": {"type": "line", "color": "#4e3fa6", "strokeWidth": 1.5, "interpolate": "monotone"},
 "encoding": {"y": {"field": "v", "type": "quantitative", "axis": null}}},
{"data": {"name": "nav1"}, "transform": [{"filter": {"field": "series", "equal": "MetOp-C Long-term average"}}],
 "mark": {"type": "line", "color": "#e8956a", "strokeWidth": 1.2, "strokeDash": [2,2], "interpolate": "monotone"},
 "encoding": {"y": {"field": "v", "type": "quantitative", "axis": null}}},
{"data": {"name": "nav1"}, "transform": [{"filter": {"and": [{"field": "series", "equal": "MetOp-B"}, {"field": "date", "gte": {"year":2024,"month":1,"date":1,"utc":true}}]}}],
 "mark": {"type": "line", "color": "#b3394d", "strokeWidth": 1.5, "interpolate": "monotone"},
 "encoding": {"y": {"field": "v", "type": "quantitative", "axis": null}}},
{"data": {"name": "nav1"}, "transform": [{"filter": {"and": [{"field": "series", "equal": "MetOp-C"}, {"field": "date", "gte": {"year":2024,"month":1,"date":1,"utc":true}}]}}],
 "mark": {"type": "line", "color": "#a33aa0", "strokeWidth": 1.5, "interpolate": "monotone"},
 "encoding": {"y": {"field": "v", "type": "quantitative", "axis": null}}},
{"data": {"name": "sel"},
 "mark": {"type": "rect", "color": "#7b8ee0", "opacity": 0.55},
 "encoding": {"x2": {"field": "end"}}},
{"data": {"name": "handles"},
 "mark": {"type": "rect", "width": 9, "fill": "#f4f4f4", "stroke": "#999999", "strokeWidth": 1, "cornerRadius": 1},
 "encoding": {"y": {"datum": 0.00316, "type": "quantitative"}, "y2": {"datum": 0.00215}}},
{"data": {"name": "sel"},
 "mark": {"type": "rule", "color": "#aaaaaa", "strokeWidth": 1},
 "encoding": {"x": null, "y": {"datum": 0.00401, "type": "quantitative"}}}
]
},
{
"width": 849, "height": 16,
"layer": [
{"data": {"name": "sel"}, "mark": {"type": "rect", "fill": "#ffffff", "stroke": "#cccccc", "cornerRadius": 8},
 "encoding": {"y": {"datum": 0, "type": "quantitative", "scale": {"domain": [0, 1]}, "axis": null}, "y2": {"datum": 1}}},
{"data": {"name": "sel"}, "mark": {"type": "rect", "fill": "#cccccc", "cornerRadius": 6},
 "encoding": {"x": {"field": "date", "type": "temporal", "scale": {"type": "utc", "domain": [{"year":2013,"month":5,"date":19,"utc":true},{"year":2025,"month":9,"date":13,"utc":true}]}, "axis": null}, "x2": {"field": "end"},
  "y": {"datum": 0.12, "type": "quantitative"}, "y2": {"datum": 0.88}}}
]
}
]
},
{
"width": 849, "height": 85,
"layer": [
{"data": {"name": "rms"}, "transform": [{"filter": {"field": "value", "lt": 0}}],
 "mark": {"type": "point", "filled": true, "opacity": 1},
 "encoding": {
  "color": {"field": "series", "type": "nominal", "scale": {"domain": ["MetOp-B","MetOp-C","MetOp-B Long-term average","MetOp-C Long-term average"], "range": ["#3fa3de","#4e3fa6","#2ecc71","#ea7a45"]},
   "legend": {"orient": "none", "legendX": 153, "legendY": 0, "columns": 2, "direction": "horizontal", "symbolType": "M-1,0L1,0M0,-0.38L0.38,0L0,0.38L-0.38,0Z", "symbolSize": 576, "symbolStrokeWidth": 2, "labelFontSize": 20, "labelColor": "#333333", "labelOffset": 10, "columnPadding": 32, "rowPadding": 7, "title": null, "labelLimit": 0}},
  "stroke": {"field": "series", "type": "nominal", "scale": {"domain": ["MetOp-B","MetOp-C","MetOp-B Long-term average","MetOp-C Long-term average"], "range": ["#3fa3de","#4e3fa6","#2ecc71","#ea7a45"]},
   "legend": {"orient": "none", "legendX": 153, "legendY": 0, "columns": 2, "direction": "horizontal", "symbolType": "M-1,0L1,0M0,-0.38L0.38,0L0,0.38L-0.38,0Z", "symbolSize": 576, "symbolStrokeWidth": 2, "labelFontSize": 20, "labelColor": "#333333", "labelOffset": 10, "columnPadding": 32, "rowPadding": 7, "title": null, "labelLimit": 0}},
  "strokeDash": {"field": "series", "type": "nominal", "scale": {"domain": ["MetOp-B","MetOp-C","MetOp-B Long-term average","MetOp-C Long-term average"], "range": [[1,0],[1,0],[3,4],[3,4]]},
   "legend": {"orient": "none", "legendX": 153, "legendY": 0, "columns": 2, "direction": "horizontal", "symbolType": "M-1,0L1,0M0,-0.38L0.38,0L0,0.38L-0.38,0Z", "symbolSize": 576, "symbolStrokeWidth": 2, "labelFontSize": 20, "labelColor": "#333333", "labelOffset": 10, "columnPadding": 32, "rowPadding": 7, "title": null, "labelLimit": 0}}
 }},
{"data": {"name": "credit"},
 "mark": {"type": "text", "align": "right", "baseline": "bottom", "fontSize": 15, "color": "#999999", "dx": 80},
 "encoding": {"text": {"field": "credit"}, "x": {"value": "width"}, "y": {"value": "height"}}}
]
}
]
}
]
},
{
"spacing": 40,
"resolve": {"scale": {"color": "independent", "stroke": "independent", "strokeDash": "independent"}, "legend": {"color": "independent", "stroke": "independent", "strokeDash": "independent"}},
"vconcat": [
{
"spacing": 16,
"resolve": {"scale": {"color": "independent", "stroke": "independent", "strokeDash": "independent"}, "legend": {"color": "independent", "stroke": "independent", "strokeDash": "independent"}},
"vconcat": [
{
"width": 825, "height": 34,
"title": {"text": "SO2 Total Vertical Column Density", "fontSize": 25, "fontWeight": "bold", "color": "#333333", "anchor": "middle", "frame": "group", "dx": 53, "offset": 3, "baseline": "bottom"},
"layer": [
{"data": {"name": "buttons"}, "transform": [{"filter": "datum.label != 'Zoom'"}],
 "mark": {"type": "rect", "cornerRadius": 2},
 "encoding": {"x": {"field": "label", "type": "nominal", "scale": {"type": "band", "domain": ["Zoom","1m","3m","6m","YTD","1y","All"], "range": [0, 413], "paddingInner": 0.19, "paddingOuter": 0.095}, "axis": null},
  "fill": {"condition": {"test": "datum.label == '6m'", "value": "#e4e9f7"}, "value": "#f7f7f7"}}},
{"data": {"name": "buttons"},
 "mark": {"type": "text", "fontSize": 20},
 "encoding": {"x": {"field": "label", "type": "nominal", "bandPosition": 0.5, "scale": {"type": "band", "domain": ["Zoom","1m","3m","6m","YTD","1y","All"], "range": [0, 413], "paddingInner": 0.19, "paddingOuter": 0.095}, "axis": null},
  "text": {"field": "label"},
  "color": {"condition": {"test": "datum.label == 'Zoom'", "value": "#666666"}, "value": "#333333"},
  "fontWeight": {"condition": {"test": "datum.label == '6m'", "value": "bold"}, "value": "normal"}}},
{"data": {"name": "range"}, "mark": {"type": "text", "align": "right", "dx": -7, "fontSize": 20, "color": "#335cad"}, "encoding": {"x": {"value": "width"}, "text": {"field": "to"}}},
{"data": {"name": "range"}, "mark": {"type": "text", "align": "center", "dx": -147, "fontSize": 18, "color": "#666666"}, "encoding": {"x": {"value": "width"}, "text": {"value": "→"}}},
{"data": {"name": "range"}, "mark": {"type": "text", "align": "right", "dx": -173, "fontSize": 20, "color": "#335cad"}, "encoding": {"x": {"value": "width"}, "text": {"field": "from"}}}
]
},
{
"width": 825, "height": 171,
"data": {"name": "vcd"},
"encoding": {
 "x": {"field": "date", "type": "temporal", "title": "Date",
  "scale": {"type": "utc", "domain": [{"year":2023,"month":7,"date":1,"utc":true},{"year":2023,"month":12,"date":1,"utc":true}]},
  "axis": {"values": [{"year":2023,"month":7,"date":1,"utc":true},{"year":2023,"month":9,"date":1,"utc":true},{"year":2023,"month":11,"date":1,"utc":true}], "format": "%b '%y", "labelFlush": true, "tickSize": 15, "tickColor": "#333333", "domainColor": "#333333", "grid": true, "gridColor": "#e6e6e6", "labelFontSize": 20, "labelColor": "#333333", "labelPadding": 11, "titleFontSize": 20, "titleColor": "#666666", "titleFontWeight": "normal", "titlePadding": 11}},
 "y": {"field": "value", "type": "quantitative", "title": ["VCD[x1015", "molec./cm2]"],
  "scale": {"domain": [-0.165, 2.972], "nice": false, "zero": false},
  "axis": {"orient": "right", "values": [0, 2], "labelExpr": "datum.value == 0 ? '0' : ''", "grid": true, "gridColor": "#e6e6e6", "domain": false, "ticks": false, "tickSize": 0, "labelAlign": "right", "labelPadding": -2, "labelBaseline": "alphabetic", "labelOffset": -5, "labelFontSize": 19.6, "labelColor": "#333333", "titleFontSize": 19, "titleColor": "#666666", "titleFontWeight": "normal", "titlePadding": 52}}
},
"layer": [
{"transform": [{"filter": {"field": "series", "equal": "Zero line"}}],
 "mark": {"type": "line", "color": "#5b50b5", "strokeWidth": 8, "opacity": 0.15, "clip": true}},
{"transform": [{"filter": {"field": "series", "equal": "Zero line"}}],
 "mark": {"type": "line", "color": "#5b50b5", "strokeWidth": 2.5, "strokeDash": [8,3], "clip": true}},
{"transform": [{"filter": {"field": "series", "equal": "Zero line"}}],
 "mark": {"type": "point", "shape": "diamond", "filled": true, "size": 100, "opacity": 1, "color": "#5b50b5", "clip": true}},
{"transform": [{"filter": {"field": "series", "oneOf": ["MetOp-B", "MetOp-C"]}}],
 "mark": {"type": "line", "strokeWidth": 9, "opacity": 0.2, "clip": true},
 "encoding": {"color": {"field": "series", "type": "nominal", "scale": {"domain": ["MetOp-B","MetOp-C","MetOp-B Long-term average","MetOp-C Long-term average","MetOp-B uncertainty requirement","MetOp-C uncertainty requirement"], "range": ["#3fa3de","#4e3fa6","#2ecc71","#ea7a45","#7d6420","#5a5a7a"]}, "legend": null}}},
{"transform": [{"filter": {"not": {"field": "series", "equal": "Zero line"}}}],
 "mark": {"type": "line", "strokeWidth": 2.8, "clip": true},
 "encoding": {"color": {"field": "series", "type": "nominal", "scale": {"domain": ["MetOp-B","MetOp-C","MetOp-B Long-term average","MetOp-C Long-term average","MetOp-B uncertainty requirement","MetOp-C uncertainty requirement"], "range": ["#3fa3de","#4e3fa6","#2ecc71","#ea7a45","#7d6420","#5a5a7a"]}, "legend": null},
  "strokeDash": {"field": "series", "type": "nominal", "scale": {"domain": ["MetOp-B","MetOp-C","MetOp-B Long-term average","MetOp-C Long-term average","MetOp-B uncertainty requirement","MetOp-C uncertainty requirement"], "range": [[1,0],[1,0],[3,4],[3,4],[10,5],[7,4]]}, "legend": null}}},
{"transform": [{"filter": {"not": {"field": "series", "equal": "Zero line"}}}],
 "mark": {"type": "point", "shape": "diamond", "filled": true, "size": 100, "opacity": 1, "clip": true},
 "encoding": {"color": {"field": "series", "type": "nominal", "scale": {"domain": ["MetOp-B","MetOp-C","MetOp-B Long-term average","MetOp-C Long-term average","MetOp-B uncertainty requirement","MetOp-C uncertainty requirement"], "range": ["#3fa3de","#4e3fa6","#2ecc71","#ea7a45","#7d6420","#5a5a7a"]}, "legend": null}}}
]
}
]
},
{
"spacing": 26,
"resolve": {"scale": {"color": "independent", "stroke": "independent", "strokeDash": "independent"}, "legend": {"color": "independent", "stroke": "independent", "strokeDash": "independent"}},
"vconcat": [
{
"spacing": 6,
"resolve": {"scale": {"color": "independent", "stroke": "independent", "strokeDash": "independent"}, "legend": {"color": "independent", "stroke": "independent", "strokeDash": "independent"}},
"vconcat": [
{
"width": 825, "height": 65,
"encoding": {"x": {"field": "date", "type": "temporal", "title": null,
  "scale": {"type": "utc", "domain": [{"year":2013,"month":4,"date":19,"utc":true},{"year":2025,"month":9,"date":24,"utc":true}]},
  "axis": {"values": [{"year":2016,"month":1,"date":1,"utc":true},{"year":2020,"month":1,"date":1,"utc":true},{"year":2024,"month":1,"date":1,"utc":true}], "format": "%b '%y", "grid": true, "gridColor": "#d9d9d9", "domain": false, "ticks": false, "tickSize": 0, "labelAlign": "left", "labelBaseline": "top", "labelPadding": -21, "labelOffset": 4, "labelFontSize": 18, "labelColor": "#555555", "labelFlush": false, "labelOverlap": false, "zindex": 1, "title": null}}},
"layer": [
{"data": {"name": "nav2"}, "transform": [{"filter": {"field": "series", "equal": "MetOp-B uncertainty requirement"}}],
 "mark": {"type": "area", "color": "#efe3c4", "opacity": 0.45, "interpolate": "monotone"},
 "encoding": {"y": {"field": "v", "type": "quantitative", "scale": {"domain": [0.28, 2.88], "nice": false, "zero": false}, "axis": null}, "y2": {"datum": 0.28}}},
{"data": {"name": "nav2"}, "transform": [{"filter": {"and": [{"field": "series", "equal": "MetOp-B"}, {"field": "date", "lte": {"year":2024,"month":1,"date":1,"utc":true}}]}}],
 "mark": {"type": "area", "color": "#b7e0ee", "opacity": 0.45, "interpolate": "monotone"},
 "encoding": {"y": {"field": "v", "type": "quantitative", "axis": null}, "y2": {"datum": 0.28}}},
{"data": {"name": "nav2"}, "transform": [{"filter": {"and": [{"field": "series", "equal": "MetOp-C"}, {"field": "date", "lte": {"year":2024,"month":1,"date":1,"utc":true}}]}}],
 "mark": {"type": "area", "color": "#8f93b0", "opacity": 0.35, "interpolate": "monotone"},
 "encoding": {"y": {"field": "v", "type": "quantitative", "axis": null}, "y2": {"datum": 0.28}}},
{"data": {"name": "nav2"}, "transform": [{"filter": {"and": [{"field": "series", "equal": "MetOp-B"}, {"field": "date", "gte": {"year":2024,"month":1,"date":1,"utc":true}}]}}],
 "mark": {"type": "area", "color": "#f8c2d6", "opacity": 0.8, "interpolate": "monotone"},
 "encoding": {"y": {"field": "v", "type": "quantitative", "axis": null}, "y2": {"datum": 0.28}}},
{"data": {"name": "nav2"}, "transform": [{"filter": {"field": "series", "equal": "Zero line"}}],
 "mark": {"type": "line", "color": "#7d96c8", "strokeWidth": 3},
 "encoding": {"y": {"field": "v", "type": "quantitative", "axis": null}}},
{"data": {"name": "nav2"}, "transform": [{"filter": {"field": "series", "equal": "MetOp-B uncertainty requirement"}}],
 "mark": {"type": "line", "color": "#9c8450", "strokeWidth": 1.2, "strokeDash": [3,2], "interpolate": "monotone"},
 "encoding": {"y": {"field": "v", "type": "quantitative", "axis": null}}},
{"data": {"name": "nav2"}, "transform": [{"filter": {"and": [{"field": "series", "equal": "MetOp-B"}, {"field": "date", "lte": {"year":2024,"month":1,"date":1,"utc":true}}]}}],
 "mark": {"type": "line", "color": "#3fa3de", "strokeWidth": 1.6, "interpolate": "monotone"},
 "encoding": {"y": {"field": "v", "type": "quantitative", "axis": null}}},
{"data": {"name": "nav2"}, "transform": [{"filter": {"field": "series", "equal": "MetOp-B Long-term average"}}],
 "mark": {"type": "line", "color": "#4cc784", "strokeWidth": 1.2, "strokeDash": [2,2], "interpolate": "monotone"},
 "encoding": {"y": {"field": "v", "type": "quantitative", "axis": null}}},
{"data": {"name": "nav2"}, "transform": [{"filter": {"field": "series", "equal": "MetOp-C uncertainty requirement"}}],
 "mark": {"type": "line", "color": "#5a5a7a", "strokeWidth": 1.2, "strokeDash": [3,2], "interpolate": "monotone"},
 "encoding": {"y": {"field": "v", "type": "quantitative", "axis": null}}},
{"data": {"name": "nav2"}, "transform": [{"filter": {"and": [{"field": "series", "equal": "MetOp-C"}, {"field": "date", "lte": {"year":2024,"month":1,"date":1,"utc":true}}]}}],
 "mark": {"type": "line", "color": "#4e3fa6", "strokeWidth": 1.5, "interpolate": "monotone"},
 "encoding": {"y": {"field": "v", "type": "quantitative", "axis": null}}},
{"data": {"name": "nav2"}, "transform": [{"filter": {"field": "series", "equal": "MetOp-C Long-term average"}}],
 "mark": {"type": "line", "color": "#e8956a", "strokeWidth": 1.2, "strokeDash": [2,2], "interpolate": "monotone"},
 "encoding": {"y": {"field": "v", "type": "quantitative", "axis": null}}},
{"data": {"name": "nav2"}, "transform": [{"filter": {"and": [{"field": "series", "equal": "MetOp-B"}, {"field": "date", "gte": {"year":2024,"month":1,"date":1,"utc":true}}]}}],
 "mark": {"type": "line", "color": "#b3394d", "strokeWidth": 1.5},
 "encoding": {"y": {"field": "v", "type": "quantitative", "axis": null}}},
{"data": {"name": "nav2"}, "transform": [{"filter": {"and": [{"field": "series", "equal": "MetOp-C"}, {"field": "date", "gte": {"year":2024,"month":1,"date":1,"utc":true}}]}}],
 "mark": {"type": "line", "color": "#e0307a", "strokeWidth": 1.5},
 "encoding": {"y": {"field": "v", "type": "quantitative", "axis": null}}},
{"data": {"name": "sel"},
 "mark": {"type": "rect", "color": "#7b8ee0", "opacity": 0.55},
 "encoding": {"x2": {"field": "end"}}},
{"data": {"name": "handles"},
 "mark": {"type": "rect", "width": 9, "fill": "#f4f4f4", "stroke": "#999999", "strokeWidth": 1, "cornerRadius": 1},
 "encoding": {"y": {"datum": 1.96, "type": "quantitative"}, "y2": {"datum": 1.16}}},
{"data": {"name": "sel"},
 "mark": {"type": "rule", "color": "#aaaaaa", "strokeWidth": 1},
 "encoding": {"x": null, "y": {"datum": 2.88, "type": "quantitative"}}}
]
},
{
"width": 825, "height": 15,
"layer": [
{"data": {"name": "sel"}, "mark": {"type": "rect", "fill": "#ffffff", "stroke": "#cccccc", "cornerRadius": 8},
 "encoding": {"y": {"datum": 0, "type": "quantitative", "scale": {"domain": [0, 1]}, "axis": null}, "y2": {"datum": 1}}},
{"data": {"name": "sel"}, "mark": {"type": "rect", "fill": "#cccccc", "cornerRadius": 6},
 "encoding": {"x": {"field": "date", "type": "temporal", "scale": {"type": "utc", "domain": [{"year":2013,"month":4,"date":19,"utc":true},{"year":2025,"month":9,"date":24,"utc":true}]}, "axis": null}, "x2": {"field": "end"},
  "y": {"datum": 0.12, "type": "quantitative"}, "y2": {"datum": 0.88}}}
]
}
]
},
{
"width": 825, "height": 115,
"layer": [
{"data": {"name": "vcd"}, "transform": [{"filter": {"field": "value", "lt": -1}}],
 "mark": {"type": "point", "filled": true, "opacity": 1},
 "encoding": {
  "color": {"field": "series", "type": "nominal", "scale": {"domain": ["MetOp-B","MetOp-C","MetOp-B Long-term average","MetOp-C Long-term average","MetOp-B uncertainty requirement","MetOp-C uncertainty requirement"], "range": ["#3fa3de","#4e3fa6","#2ecc71","#ea7a45","#7d6420","#5a5a7a"]},
   "legend": {"orient": "none", "legendX": 112, "legendY": 0, "columns": 2, "direction": "horizontal", "symbolType": "M-1,0L1,0M0,-0.38L0.38,0L0,0.38L-0.38,0Z", "symbolSize": 576, "symbolStrokeWidth": 2, "labelFontSize": 20, "labelColor": "#333333", "labelOffset": 10, "columnPadding": 31, "rowPadding": 7.5, "title": null, "labelLimit": 0}},
  "stroke": {"field": "series", "type": "nominal", "scale": {"domain": ["MetOp-B","MetOp-C","MetOp-B Long-term average","MetOp-C Long-term average","MetOp-B uncertainty requirement","MetOp-C uncertainty requirement"], "range": ["#3fa3de","#4e3fa6","#2ecc71","#ea7a45","#7d6420","#5a5a7a"]},
   "legend": {"orient": "none", "legendX": 112, "legendY": 0, "columns": 2, "direction": "horizontal", "symbolType": "M-1,0L1,0M0,-0.38L0.38,0L0,0.38L-0.38,0Z", "symbolSize": 576, "symbolStrokeWidth": 2, "labelFontSize": 20, "labelColor": "#333333", "labelOffset": 10, "columnPadding": 31, "rowPadding": 7.5, "title": null, "labelLimit": 0}},
  "strokeDash": {"field": "series", "type": "nominal", "scale": {"domain": ["MetOp-B","MetOp-C","MetOp-B Long-term average","MetOp-C Long-term average","MetOp-B uncertainty requirement","MetOp-C uncertainty requirement"], "range": [[1,0],[1,0],[3,4],[3,4],[10,5],[7,4]]},
   "legend": {"orient": "none", "legendX": 112, "legendY": 0, "columns": 2, "direction": "horizontal", "symbolType": "M-1,0L1,0M0,-0.38L0.38,0L0,0.38L-0.38,0Z", "symbolSize": 576, "symbolStrokeWidth": 2, "labelFontSize": 20, "labelColor": "#333333", "labelOffset": 10, "columnPadding": 31, "rowPadding": 7.5, "title": null, "labelLimit": 0}}
 }},
{"data": {"name": "credit"},
 "mark": {"type": "text", "align": "right", "baseline": "bottom", "fontSize": 15, "color": "#999999", "dx": 80},
 "encoding": {"text": {"field": "credit"}, "x": {"value": "width"}, "y": {"value": "height"}}}
]
}
]
}
]
}
]
}
